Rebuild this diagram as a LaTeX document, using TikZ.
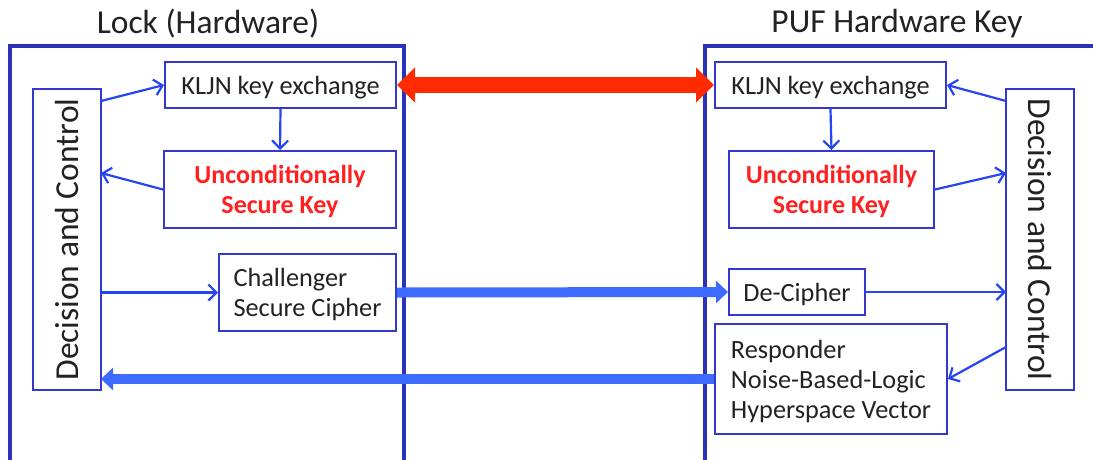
\documentclass[tikz,border=0pt]{standalone}
\usepackage{fontspec}
\setmainfont{Carlito}
\usetikzlibrary{arrows.meta,calc}
\definecolor{outerblue}{HTML}{2B32B8}
\definecolor{boxblue}{HTML}{3538CC}
\definecolor{thinblue}{HTML}{2545F5}
\definecolor{thickblue}{HTML}{3D6BFF}
\definecolor{keyred}{HTML}{FF2A00}
\definecolor{txtred}{HTML}{FF2020}
\definecolor{txtgray}{HTML}{222222}
\begin{document}
\begin{tikzpicture}[x=1pt,y=-1pt,
  box/.style={draw=boxblue,line width=2pt,fill=white,text=txtgray,inner sep=0pt,text depth=0pt,
    font=\fontsize{26.3}{30}\selectfont},
  dcbox/.style={box,minimum width=301pt,minimum height=68pt,font=\fontsize{33.5}{36}\selectfont},
  keytxt/.style={text=txtred,font=\fontsize{26}{30}\selectfont\bfseries},
  title/.style={text=txtgray,font=\fontsize{33.5}{38}\selectfont},
  outerbox/.style={draw=outerblue,line width=3.2pt},
  thinarrow/.style={draw=thinblue,line width=2.2pt,-{Straight Barb[length=8pt,width=16pt,line width=2.2pt]}},
  thickarrow/.style={draw=thickblue,line width=10pt,-{Triangle[length=12pt,width=22pt]}},
  redarrow/.style={draw=keyred,line width=16pt,{Triangle[length=18pt,width=34pt]}-{Triangle[length=18pt,width=34pt]}}
]
\useasboundingbox (0,0) rectangle (1093,459);
\begin{scope}
\clip (0,0) rectangle (1093,459);
\draw[outerbox] (10,470) -- (10,46) -- (404,46) -- (404,470);
\draw[outerbox] (1100,46) -- (705,46) -- (705,470);
\end{scope}
% titles
\node[title] (ltitle) at (208,24) {Lock (Hardware)};
\node[title] (rtitle) at (897,24) {PUF Hardware Key};
% left boxes
\node[box,minimum width=231pt,minimum height=46pt] (lkljn) at (280.5,85) {KLJN key exchange};
\node[box,minimum width=232pt,minimum height=77pt,align=center,keytxt] (lkey) at (280,189.5) {Unconditionally\\Secure Key};
\node[box,minimum width=177pt,minimum height=77pt,align=left] (lchal) at (307.5,292.5) {Challenger\\Secure Cipher};
\node[dcbox,rotate=90] (ldc) at (67,239.5) {Decision and Control};
% right boxes
\node[box,minimum width=231pt,minimum height=46pt] (rkljn) at (830.5,85) {KLJN key exchange};
\node[box,minimum width=205pt,minimum height=77pt,align=center,keytxt] (rkey) at (831.5,189.5) {Unconditionally\\Secure Key};
\node[box,minimum width=136pt,minimum height=46pt] (rdec) at (797,292) {De-Cipher};
\node[box,minimum width=232pt,minimum height=110pt,align=left] (rresp) at (831,379) {Responder\\Noise-Based-Logic\\Hyperspace Vector};
\node[dcbox,rotate=-90] (rdc) at (1040,239.5) {Decision and Control};
% left thin arrows
\coordinate (la) at (101,101);
\coordinate (lb) at (101,173);
\draw[thinarrow] (la) -- (lkljn.west);
\draw[thinarrow] (lkljn.south) -- (lkey.north);
\draw[thinarrow] (lkey.west) -- (lb);
\draw[thinarrow] (lchal.west -| 101,0) -- (lchal.west);
% right thin arrows
\coordinate (ra) at (1006,101);
\coordinate (rb) at (1006,173);
\coordinate (rc) at (1006,347);
\draw[thinarrow] (ra) -- (rkljn.east);
\draw[thinarrow] (rkljn.south) -- (rkey.north);
\draw[thinarrow] (rkey.east) -- (rb);
\draw[thinarrow] (rdec.east) -- (rdec.east -| 1006,0);
\draw[thinarrow] (rc) -- (rresp.east);
% thick arrows
\draw[thickarrow] (lchal.east) -- (rdec.west);
\draw[thickarrow] (rresp.west) -- (rresp.west -| 101,0);
\draw[redarrow] (lkljn.east) -- (rkljn.west);
\end{tikzpicture}
\end{document}
